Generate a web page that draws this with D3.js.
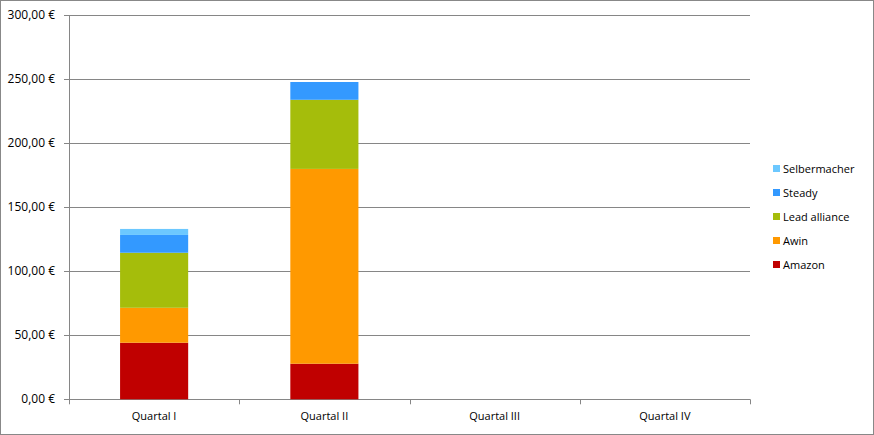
<!DOCTYPE html>
<html><head><meta charset="utf-8">
<script src="https://cdn.jsdelivr.net/npm/d3@7"></script>
<style>body{margin:0;background:#fff}svg{display:block;font-family:"Open Sans","DejaVu Sans",sans-serif}</style>
</head><body><svg id="c" width="874" height="435"></svg>
<script>
const categories = ["Quartal I","Quartal II","Quartal III","Quartal IV"];
const seriesNames = ["Amazon","Awin","Lead alliance","Steady","Selbermacher"];
const amazon = [44.2, 27.8, 0, 0];
const awin = [27.3, 152.2, 0, 0];
const leadAlliance = [43.0, 54.0, 0, 0];
const steady = [13.9, 13.9, 0, 0];
const selbermacher = [4.7, 0, 0, 0];
const yTicks = [0,50,100,150,200,250,300];
const colors = ["#C00000","#FF9900","#A5BD0B","#3399FF","#6CC8FF"];

const values = [amazon, awin, leadAlliance, steady, selbermacher];
const rows = categories.map((c,i)=>{const r={cat:c}; seriesNames.forEach((s,j)=>r[s]=values[j][i]); return r;});
const stack = d3.stack().keys(seriesNames)(rows);

const svg = d3.select("#c");
svg.append("rect").attr("x",0.5).attr("y",0.5).attr("width",873).attr("height",434).attr("fill","#fff").attr("stroke","#888");
const L=69, R=750, T=15.3, B=399.3;
const x = d3.scaleBand().domain(categories).range([L,R]).paddingInner(0.6).paddingOuter(0.3);
const xb = d3.scaleBand().domain(categories).range([L,R]);
const y = d3.scaleLinear().domain([0,300]).range([B,T]);

const g = svg.append("g");
g.selectAll(".grid").data(yTicks).join("line")
 .attr("x1",L-5).attr("x2",R).attr("y1",d=>Math.round(y(d))+0.5).attr("y2",d=>Math.round(y(d))+0.5)
 .attr("stroke","#868686").attr("stroke-width",1);
g.selectAll(".yl").data(yTicks).join("text")
 .attr("x",55).attr("y",d=>y(d)+4).attr("text-anchor","end").attr("font-size",12).attr("fill","#000")
 .text(d=>d3.format(".2f")(d).replace(".",",")+" €");
g.append("line").attr("x1",L+0.5).attr("x2",L+0.5).attr("y1",T).attr("y2",B).attr("stroke","#868686");
const bounds = categories.map(c=>xb(c)).concat([R]);
g.selectAll(".xt").data(bounds).join("line")
 .attr("x1",d=>Math.round(d)+0.5).attr("x2",d=>Math.round(d)+0.5).attr("y1",B).attr("y2",B+5).attr("stroke","#868686");

stack.forEach((s,j)=>{
  g.append("g").selectAll("rect").data(s).join("rect")
   .attr("x",d=>x(d.data.cat)).attr("width",x.bandwidth())
   .attr("y",d=>y(d[1])).attr("height",d=>Math.max(0,y(d[0])-y(d[1])))
   .attr("fill",colors[j]);
});
g.selectAll(".xl").data(categories).join("text")
 .attr("x",d=>xb(d)+xb.bandwidth()/2).attr("y",420).attr("text-anchor","middle").attr("font-size",11).text(d=>d);

const leg = svg.append("g");
const order = seriesNames.map((s,j)=>({s,j})).reverse();
order.forEach((o,i)=>{
  const yy = 169 + i*24;
  leg.append("rect").attr("x",773).attr("y",yy-4).attr("width",7).attr("height",7).attr("fill",colors[o.j]);
  leg.append("text").attr("x",783).attr("y",yy+4).attr("font-size",11).text(o.s);
});
</script></body></html>
